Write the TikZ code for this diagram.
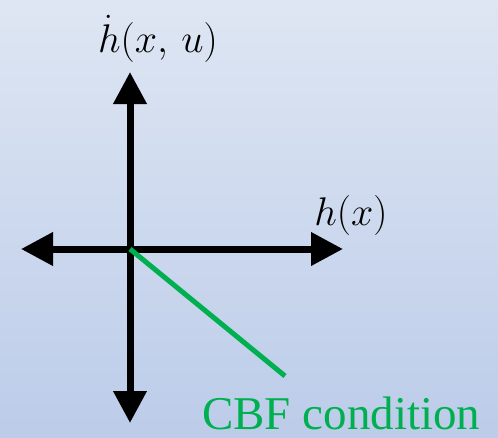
\RequirePackage{fix-cm}
\documentclass[tikz,border=0pt]{standalone}
\usepackage{amsmath}
\usepackage{fontspec}
\usetikzlibrary{arrows.meta}
\newfontfamily\captionfont{Liberation Serif}
\definecolor{cbfgreen}{RGB}{0,176,80}
\definecolor{bgtop}{RGB}{222,230,243}
\definecolor{bgbottom}{RGB}{188,204,233}

\begin{document}
\begin{tikzpicture}[x=1pt, y=-1pt,
  axis/.style={line width=7pt, {Triangle[length=32pt,width=32pt]}-{Triangle[length=32pt,width=32pt]}},
  mathlabel/.style={inner sep=0pt, anchor=base, font=\fontsize{40}{46}\selectfont},
  condition/.style={line width=5pt, draw=cbfgreen}
]
\shade[top color=bgtop, bottom color=bgbottom] (0,0) rectangle (498,437);
\useasboundingbox (0,0) rectangle (498,437);

\coordinate (origin) at (130,249);
\coordinate (left) at (21,249);
\coordinate (right) at (343,249);
\coordinate (top) at (130,72);
\coordinate (bottom) at (130,423);
\coordinate (cbfend) at (285,376);

\draw[axis] (left) -- (right);
\draw[axis] (top) -- (bottom);
\draw[condition] (origin) -- (cbfend);

\node[mathlabel] (hdot) at (158,52) {$\dot{h}(x,\,u)$};
\node[mathlabel] (hx) at (351,225) {$h(x)$};
\node[inner sep=0pt, anchor=base west, text=cbfgreen, font=\captionfont\fontsize{47}{52}\selectfont] (cbf) at (202,429) {CBF condition};
\end{tikzpicture}
\end{document}
